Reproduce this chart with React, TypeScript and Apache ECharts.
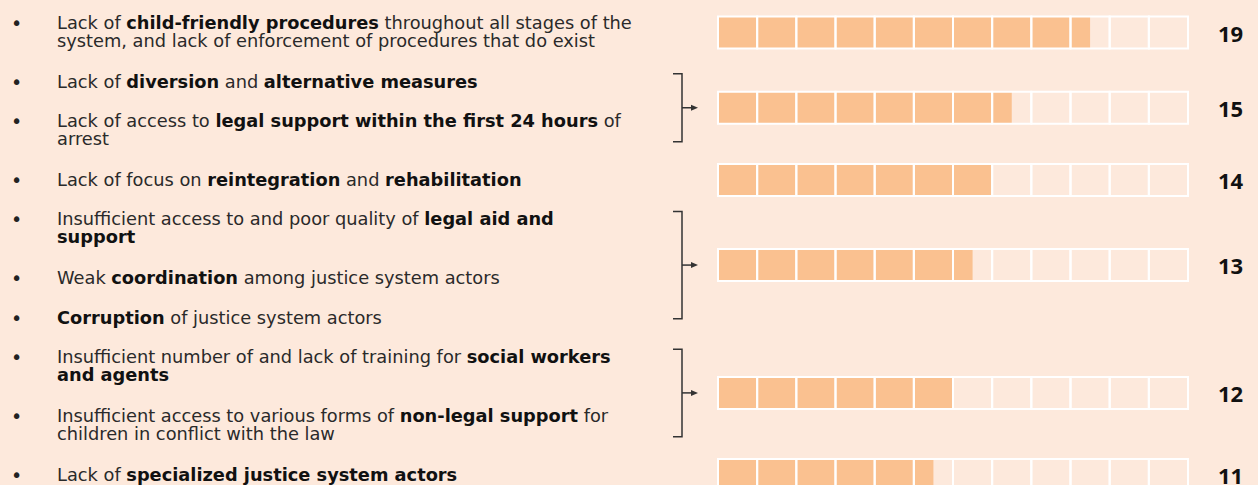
import React, { useEffect, useRef } from "react";
import * as echarts from "echarts";

// Issues (text lines, **bold** marks emphasis)
const issues: string[][] = [
  ["Lack of **child-friendly procedures** throughout all stages of the", "system, and lack of enforcement of procedures that do exist"],
  ["Lack of **diversion** and **alternative measures**"],
  ["Lack of access to **legal support within the first 24 hours** of", "arrest"],
  ["Lack of focus on **reintegration** and **rehabilitation**"],
  ["Insufficient access to and poor quality of **legal aid and**", "**support**"],
  ["Weak **coordination** among justice system actors"],
  ["**Corruption** of justice system actors"],
  ["Insufficient number of and lack of training for **social workers**", "**and agents**"],
  ["Insufficient access to various forms of **non-legal support** for", "children in conflict with the law"],
  ["Lack of **specialized justice system actors**"],
];

// Which issues share one score
const groupIssues: number[][] = [[0], [1, 2], [3], [4, 5, 6], [7, 8], [9]];
const groupValues: number[] = [19, 15, 14, 13, 12, 11];

const SCALE_MAX = 24;
const CELL = 2;

const FONT = "'DejaVu Sans', sans-serif";
const NUM_FONT = "'Open Sans', sans-serif";

function toRich(line: string): string {
  return line
    .split("**")
    .map((s, i) => (s ? `{${i % 2 ? "b" : "n"}|${s}}` : ""))
    .join("");
}

export default function App() {
  const ref = useRef<HTMLDivElement>(null);
  useEffect(() => {
    if (!ref.current) return;
    const chart = echarts.init(ref.current, undefined, { renderer: "svg" });

    // layout in line units: lines within an issue 1 apart, issues 2 apart
    const starts: number[] = [];
    let k = 0;
    issues.forEach((lines) => {
      starts.push(k);
      k += lines.length - 1 + 2;
    });
    const lastLine = k - 2;

    const textData = issues.map((lines, i) => [0, starts[i], i]);
    const groupData = groupValues.map((v, g) => {
      const ids = groupIssues[g];
      const first = starts[ids[0]];
      const lastId = ids[ids.length - 1];
      const last = starts[lastId] + issues[lastId].length - 1;
      let top = first, bottom = last;
      if (ids.length > 1) {
        top = first - 0.4;
        bottom = last + 0.05;
      }
      return [v, (top + bottom) / 2, g, top, bottom, ids.length];
    });

    const option: any = {
      animation: false,
      backgroundColor: "#fde9dc",
      grid: { left: 718, right: 70, top: 22.7, bottom: 10 },
      xAxis: { type: "value", min: 0, max: SCALE_MAX, interval: CELL, show: false },
      yAxis: { type: "value", min: 0, max: lastLine, inverse: true, show: false },
      series: [
        {
          type: "custom",
          clip: false,
          silent: true,
          encode: { x: 0, y: 1 },
          data: textData,
          renderItem: (params: any, api: any) => {
            const idx = api.value(2);
            const y = api.coord([0, api.value(1)])[1];
            const text = issues[idx].map(toRich).join("\n");
            return {
              type: "group",
              children: [
                {
                  type: "text",
                  x: 11,
                  y: y,
                  style: {
                    text: "•",
                    fill: "#222",
                    fontSize: 19,
                    fontFamily: FONT,
                    verticalAlign: "middle",
                  },
                },
                {
                  type: "text",
                  x: 57,
                  y: y - 9.5,
                  style: {
                    text,
                    verticalAlign: "top",
                    rich: {
                      n: { fontSize: 17.8, fontFamily: FONT, fill: "#2a2a2a", lineHeight: 18 },
                      b: { fontSize: 17.8, fontFamily: FONT, fontWeight: "bold", fill: "#111", lineHeight: 18 },
                    },
                  },
                },
              ],
            };
          },
        },
        {
          type: "custom",
          clip: false,
          silent: true,
          encode: { x: 0, y: 1 },
          data: groupData,
          renderItem: (params: any, api: any) => {
            const v = api.value(0);
            const yc = api.value(1);
            const p0 = api.coord([0, yc]);
            const pv = api.coord([v, yc]);
            const pm = api.coord([SCALE_MAX, yc]);
            const h = 32;
            const top = p0[1] - h / 2;
            const children: any[] = [
              {
                type: "rect",
                shape: { x: p0[0], y: top, width: pv[0] - p0[0], height: h },
                style: { fill: "#fac190" },
              },
            ];
            for (let c = 0; c < SCALE_MAX / CELL; c++) {
              const a = api.coord([c * CELL, yc])[0];
              const b = api.coord([(c + 1) * CELL, yc])[0];
              children.push({
                type: "rect",
                shape: { x: a, y: top, width: b - a, height: h },
                style: { fill: "none", stroke: "#ffffff", lineWidth: 2 },
              });
            }
            children.push({
              type: "text",
              x: pm[0] + 30,
              y: p0[1],
              style: {
                text: String(v),
                fill: "#111",
                fontSize: 22,
                fontWeight: "bold",
                fontFamily: NUM_FONT,
                verticalAlign: "middle",
              },
            });
            if (api.value(5) > 1) {
              const yt = api.coord([0, api.value(3)])[1];
              const yb = api.coord([0, api.value(4)])[1];
              const ym = p0[1];
              children.push({
                type: "polyline",
                shape: { points: [[673, yt], [682, yt], [682, yb], [673, yb]] },
                style: { fill: "none", stroke: "#333", lineWidth: 1.5 },
              });
              children.push({
                type: "line",
                shape: { x1: 682, y1: ym, x2: 692, y2: ym },
                style: { stroke: "#333", lineWidth: 1.5 },
              });
              children.push({
                type: "polygon",
                shape: { points: [[691, ym - 3], [698, ym], [691, ym + 3]] },
                style: { fill: "#333" },
              });
            }
            return { type: "group", children };
          },
        },
      ],
    };
    chart.setOption(option);
    return () => chart.dispose();
  }, []);
  return (
    <div
      ref={ref}
      style={{ position: "fixed", left: 0, top: 0, width: 1258, height: 485 }}
    />
  );
}
